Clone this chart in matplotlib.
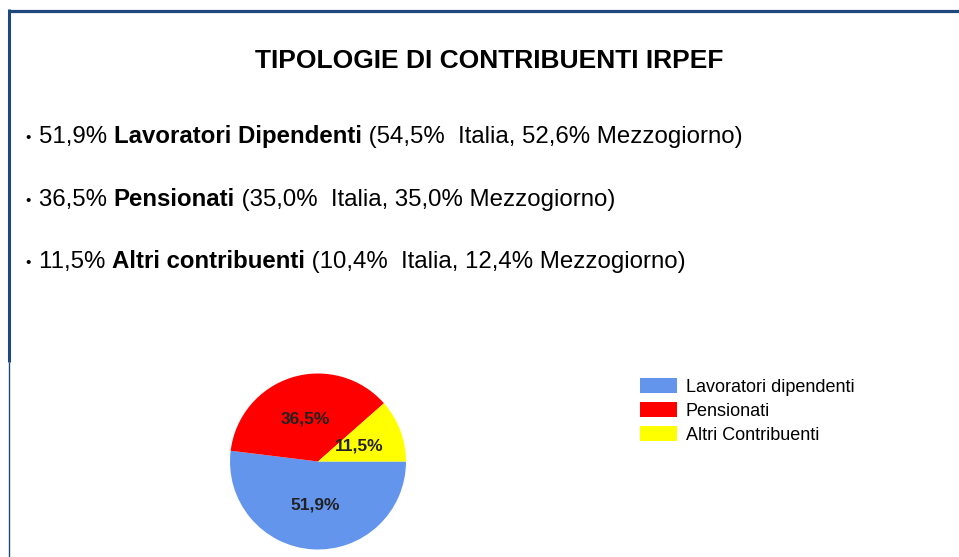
import matplotlib
matplotlib.use("Agg")
import matplotlib.pyplot as plt
from matplotlib.lines import Line2D

plt.rcParams['font.family'] = ['Liberation Sans', 'DejaVu Sans']

W, H = 959, 557

# pie data
categories = ['Lavoratori dipendenti', 'Pensionati', 'Altri Contribuenti']
shares = [51.9, 36.5, 11.5]
colors = ['#6495ED', '#FF0000', '#FFFF00']

# bullet text data
bullet_shares = ['51,9%', '36,5%', '11,5%']
bullet_names = ['Lavoratori Dipendenti', 'Pensionati', 'Altri contribuenti']
italia = ['54,5%', '35,0%', '10,4%']
mezzogiorno = ['52,6%', '35,0%', '12,4%']

title = 'TIPOLOGIE DI CONTRIBUENTI IRPEF'
border = '#1F497D'

fig = plt.figure(figsize=(W / 100, H / 100), dpi=100)


def fx(x):
    return x / W


def fy(y):
    return 1 - y / H


# frame lines
fig.add_artist(Line2D([fx(8), fx(959)], [fy(10.5), fy(10.5)], color=border,
                      lw=2.3, solid_capstyle='butt'))
fig.add_artist(Line2D([fx(9.2), fx(9.2)], [fy(9.3), fy(361.5)], color=border,
                      lw=2.2, solid_capstyle='butt'))
fig.add_artist(Line2D([fx(8.5), fx(8.5)], [fy(361.5), fy(557)], color=border,
                      lw=1.0, solid_capstyle='butt'))

fig.text(fx(489.5), fy(67.5), title, ha='center', va='baseline',
         fontsize=19, fontweight='bold', color='black')

# pie
cx, cy, r = 318, 461.5, 88
ax = fig.add_axes([fx(cx - r), fy(cy + r), 2 * r / W, 2 * r / H])
wedges, texts, autotexts = ax.pie(
    shares, colors=colors, startangle=0, counterclock=False,
    autopct=lambda p: '', pctdistance=0.5,
    wedgeprops=dict(linewidth=0))
for w, a, s in zip(wedges, autotexts, shares):
    a.set_text(('%.1f%%' % s).replace('.', ','))
    a.set_fontsize(12.5)
    a.set_fontweight('bold')
    a.set_color('#222222')
ax.set_xlim(-1, 1)
ax.set_ylim(-1, 1)
ax.set_aspect('equal')
ax.axis('off')

# bullet lines
fs = 17.3
baselines = [143.3, 205.7, 268]
for i in range(3):
    y = baselines[i]
    fig.text(fx(25.5), fy(y - 5), '\u2022', ha='left', va='center',
             fontsize=11, color='black')
    t1 = fig.text(fx(39), fy(y), bullet_shares[i] + ' ', ha='left',
                  va='baseline', fontsize=fs, color='black')
    t2 = ax.annotate(bullet_names[i], xy=(1, 0), xycoords=t1,
                     ha='left', va='bottom', fontsize=fs,
                     fontweight='bold', color='black',
                     annotation_clip=False)
    rest = ' (%s  Italia, %s Mezzogiorno)' % (italia[i], mezzogiorno[i])
    ax.annotate(rest, xy=(1, 0), xycoords=t2, ha='left', va='bottom',
                fontsize=fs, color='black', annotation_clip=False)

fig.legend(wedges, categories, loc='upper left',
           bbox_to_anchor=(fx(626), fy(364)), frameon=False,
           fontsize=13, handlelength=2.0, handleheight=0.85,
           handletextpad=0.5, labelspacing=0.36, borderpad=0.3)

fig.savefig('out.png', dpi=100)
